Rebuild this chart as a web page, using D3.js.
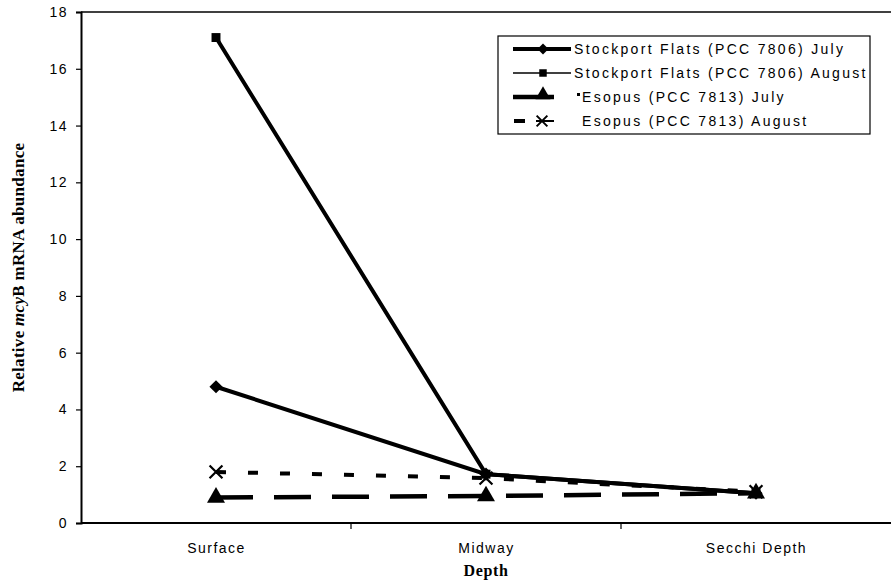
<!DOCTYPE html>
<html>
<head>
<meta charset="utf-8">
<script src="https://cdn.jsdelivr.net/npm/d3@7"></script>
<style>
  body { margin: 0; background: #fff; }
  svg { display: block; }
  .tick text { font-family: "Liberation Sans", Arial, sans-serif; font-size: 14px; letter-spacing: 1.5px; fill: #000; }
  .leg text { font-family: "Liberation Sans", Arial, sans-serif; font-size: 14px; letter-spacing: 2.3px; fill: #000; }
</style>
</head>
<body>
<div id="chart"></div>
<script>
// values
var categories = ["Surface", "Midway", "Secchi Depth"];
var yTicks = [0, 2, 4, 6, 8, 10, 12, 14, 16, 18];

var stockportJuly = [4.8, 1.72, 1.05];
var stockportAug = [17.1, 1.72, 1.05];
var esopusJuly = [0.9, 0.95, 1.05];
var esopusAug = [1.8, 1.58, 1.1];

var seriesNames = [
    "Stockport Flats (PCC 7806) July",
    "Stockport Flats (PCC 7806) August",
    "Esopus (PCC 7813) July",
    "Esopus (PCC 7813) August"
];

let W = 891, H = 582;
let margin = {top: 12, right: 0, bottom: 59, left: 81};
let width = W - margin.left - margin.right,
    height = H - margin.top - margin.bottom;

let svg = d3.select("#chart").append("svg")
    .attr("width", W).attr("height", H);

let g = svg.append("g")
    .attr("transform", "translate(" + margin.left + "," + margin.top + ")");

let xBand = d3.scaleBand().domain(categories).range([0, width]);
let x = d3.scalePoint().domain(categories).range([0, width]).padding(0.5);
let y = d3.scaleLinear().domain([0, 18]).range([height, 0]);

// top border
g.append("line")
    .attr("x1", 0).attr("x2", width)
    .attr("y1", 0).attr("y2", 0)
    .attr("stroke", "#000").attr("stroke-width", 1.5);

// y axis
let yAxis = d3.axisLeft(y).tickValues(yTicks).tickSize(5).tickPadding(8);
let ya = g.append("g").call(yAxis);
ya.select(".domain").attr("stroke-width", 2);
ya.selectAll(".tick line").attr("stroke-width", 1.2);

// x axis: labels under categories, ticks at band edges
let xAxis = d3.axisBottom(x).tickSize(0).tickPadding(20);
let xa = g.append("g").attr("transform", "translate(0," + height + ")").call(xAxis);
xa.select(".domain").remove();
g.append("line")
    .attr("x1", 0).attr("x2", width)
    .attr("y1", height).attr("y2", height)
    .attr("stroke", "#000").attr("stroke-width", 2);
g.selectAll(".xtick")
    .data(categories.slice(1))
    .enter().append("line")
    .attr("class", "xtick")
    .attr("x1", d => xBand(d)).attr("x2", d => xBand(d))
    .attr("y1", height).attr("y2", height + 6)
    .attr("stroke", "#000").attr("stroke-width", 1.2);

// axis titles
svg.append("text")
    .attr("x", margin.left + x("Midway"))
    .attr("y", 576)
    .attr("text-anchor", "middle")
    .style("font-family", "'Liberation Serif', 'Times New Roman', serif")
    .style("font-weight", "bold")
    .style("font-size", "16px")
    .style("letter-spacing", "0.6px")
    .text("Depth");

let yl = svg.append("text")
    .attr("transform", "translate(24," + (margin.top + height / 2) + ") rotate(-90)")
    .attr("text-anchor", "middle")
    .style("font-family", "'Liberation Serif', 'Times New Roman', serif")
    .style("font-weight", "bold")
    .style("font-size", "17px")
    .style("letter-spacing", "0.3px");
yl.append("tspan").text("Relative ");
yl.append("tspan").style("font-style", "italic").text("mcy");
yl.append("tspan").text("B mRNA abundance");

// series
let series = [
    {name: seriesNames[0], values: stockportJuly, width: 4, dash: null, symbol: d3.symbolDiamond2, size: 110, legWidth: 4},
    {name: seriesNames[1], values: stockportAug, width: 4, dash: null, symbol: d3.symbolSquare, size: 80, legWidth: 1.5},
    {name: seriesNames[2], values: esopusJuly, width: 4.5, dash: "37,21", symbol: d3.symbolTriangle, size: 140, legWidth: 4.5},
    {name: seriesNames[3], values: esopusAug, width: 4, dash: "10,22", symbol: d3.symbolX, size: 110, legWidth: 4}
];

let line = d3.line()
    .x((d, i) => x(categories[i]))
    .y(d => y(d));

series.forEach(function (s) {
    g.append("path")
        .datum(s.values)
        .attr("d", line)
        .attr("fill", "none")
        .attr("stroke", "#000")
        .attr("stroke-width", s.width)
        .attr("stroke-dasharray", s.dash);

    let stroked = s.symbol === d3.symbolX;
    g.selectAll(null)
        .data(s.values)
        .enter().append("path")
        .attr("transform", (d, i) => "translate(" + x(categories[i]) + "," + y(d) + ")")
        .attr("d", d3.symbol().type(s.symbol).size(s.size))
        .attr("fill", stroked ? "none" : "#000")
        .attr("stroke", "#000")
        .attr("stroke-width", stroked ? 2.2 : 0);
});

// legend
let leg = svg.append("g").attr("class", "leg").attr("transform", "translate(498,36)");
leg.append("rect")
    .attr("width", 372).attr("height", 98)
    .attr("fill", "#fff").attr("stroke", "#000").attr("stroke-width", 1.2);

series.forEach(function (s, i) {
    let row = leg.append("g").attr("transform", "translate(0," + (13 + i * 24) + ")");
    let stroked = s.symbol === d3.symbolX;
    if (i === 3) {
        row.append("line").attr("x1", 16).attr("x2", 27).attr("y1", 0).attr("y2", 0)
            .attr("stroke", "#000").attr("stroke-width", 4);
        row.append("line").attr("x1", 38).attr("x2", 56).attr("y1", 0).attr("y2", 0)
            .attr("stroke", "#000").attr("stroke-width", 2);
    } else {
        row.append("line").attr("x1", 15).attr("x2", i === 2 ? 56 : 73).attr("y1", 0).attr("y2", 0)
            .attr("stroke", "#000").attr("stroke-width", s.legWidth);
    }
    row.append("path")
        .attr("transform", "translate(" + (i === 3 ? 44 : 45) + "," + (i === 2 ? -2 : 0) + ")")
        .attr("d", d3.symbol().type(s.symbol).size(s.size * 0.7))
        .attr("fill", stroked ? "none" : "#000")
        .attr("stroke", "#000")
        .attr("stroke-width", stroked ? 2 : 0);
    if (i === 2) {
        row.append("rect").attr("x", 79).attr("y", -4).attr("width", 3).attr("height", 3).attr("fill", "#000");
    }
    row.append("text")
        .attr("x", i >= 2 ? 84 : 76)
        .attr("y", 5)
        .text(s.name);
});
</script>
</body>
</html>
